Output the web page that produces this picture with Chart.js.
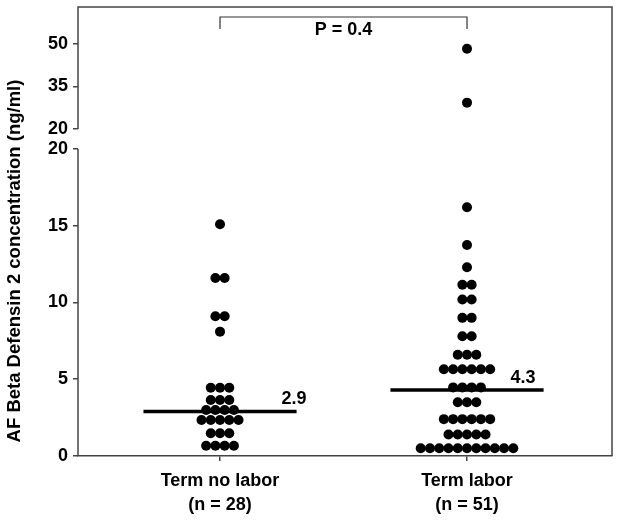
<!DOCTYPE html>
<html><head><meta charset="utf-8">
<script src="https://cdn.jsdelivr.net/npm/chart.js@4"></script>
<style>html,body{margin:0;padding:0;background:#fff}#wrap{width:624px;height:520px;position:relative}</style>
</head><body><div id="wrap"><canvas id="c"></canvas></div>
<script>
// ---- data ----
const categories = ['Term no labor', 'Term labor'];
const nLabels = ['(n = 28)', '(n = 51)'];
const termNoLabor = [15.1, 11.6, 11.6, 9.1, 9.1, 8.1,
  4.45, 4.45, 4.45, 3.65, 3.65, 3.65, 3.0, 3.0, 3.0, 3.0,
  2.35, 2.35, 2.35, 2.35, 2.35, 1.48, 1.48, 1.48, 0.67, 0.67, 0.67, 0.67];
const termLabor = [48.3, 29.3, 16.2, 13.75, 12.3, 11.15, 11.15, 10.2, 10.2, 9.0, 9.0, 7.8, 7.8,
  6.6, 6.6, 6.6, 5.65, 5.65, 5.65, 5.65, 5.65, 5.65, 4.47, 4.47, 4.47, 4.47,
  3.5, 3.5, 3.5, 2.4, 2.4, 2.4, 2.4, 2.4, 2.4, 1.4, 1.4, 1.4, 1.4, 1.4,
  0.5, 0.5, 0.5, 0.5, 0.5, 0.5, 0.5, 0.5, 0.5, 0.5, 0.5];
const medians = [2.9, 4.3];
const medianLabels = ['2.9', '4.3'];
const yTicksLower = [0, 5, 10, 15, 20];
const yTicksUpper = [20, 35, 50];
const breakValue = 20;
const pLabel = 'P = 0.4';
const yTitle = 'AF Beta Defensin 2 concentration (ng/ml)';

// ---- build ----
const FONT = '"Liberation Sans", Arial, Helvetica, sans-serif';
const SPACING = 0.0375;
function swarm(values, gx) {
  const counts = {}, seen = {};
  values.forEach(v => counts[v] = (counts[v] || 0) + 1);
  return values.map(v => {
    const n = counts[v], i = seen[v] || 0; seen[v] = i + 1;
    return { x: gx + (i - (n - 1) / 2) * SPACING, y: v };
  });
}
const allPts = [...swarm(termNoLabor, 1), ...swarm(termLabor, 2)];
const lowerPts = allPts.filter(p => p.y <= breakValue);
const upperPts = allPts.filter(p => p.y > breakValue);
const HALF = 0.31;
const medianSets = medians.map((m, i) => ({
  type: 'line', data: [{ x: i + 1 - HALF, y: m }, { x: i + 1 + HALF, y: m }],
  borderColor: '#000', borderWidth: 3.5, pointRadius: 0, yAxisID: 'y', order: 0
}));

const dotStyle = { backgroundColor: '#000', borderColor: '#000', borderWidth: 0, pointRadius: 5, pointHoverRadius: 5 };

const extras = {
  id: 'extras',
  afterDraw(chart) {
    const { ctx, chartArea: a, scales } = chart;
    const y = scales.y, y2 = scales.y2, x = scales.x;
    ctx.save();
    ctx.strokeStyle = '#444'; ctx.lineWidth = 1.5;
    // broken left axis
    ctx.beginPath();
    ctx.moveTo(a.left, y.getPixelForValue(0)); ctx.lineTo(a.left, y.getPixelForValue(breakValue));
    ctx.moveTo(a.left, y2.getPixelForValue(breakValue)); ctx.lineTo(a.left, a.top);
    // box top & right
    ctx.lineTo(a.right, a.top); ctx.lineTo(a.right, a.bottom);
    ctx.stroke();
    // bracket
    const bx1 = x.getPixelForValue(1), bx2 = x.getPixelForValue(2);
    ctx.lineWidth = 1.2; ctx.strokeStyle = '#333';
    ctx.beginPath();
    ctx.moveTo(bx1, a.top + 22); ctx.lineTo(bx1, a.top + 10); ctx.lineTo(bx2, a.top + 10); ctx.lineTo(bx2, a.top + 22);
    ctx.stroke();
    ctx.fillStyle = '#000';
    ctx.font = 'bold 18px ' + FONT;
    ctx.textAlign = 'center'; ctx.textBaseline = 'middle';
    ctx.fillText(pLabel, (bx1 + bx2) / 2, a.top + 23);
    // median labels
    const dx = [0.30, 0.227];
    medians.forEach((m, i) => {
      ctx.fillText(medianLabels[i], x.getPixelForValue(i + 1 + dx[i]), y.getPixelForValue(m) - 12);
    });
    // y title
    ctx.font = 'bold 18.5px ' + FONT;
    ctx.translate(15, 261);
    ctx.rotate(-Math.PI / 2);
    ctx.fillText(yTitle, 0, 0);
    ctx.restore();
  }
};

const yCommon = {
  type: 'linear', position: 'left', stack: 'ys',
  ticks: { font: { family: FONT, size: 18, weight: 'bold' }, color: '#000', padding: 5 },
  grid: { drawOnChartArea: false, drawTicks: true, tickLength: 5, color: '#444', lineWidth: 1.5 },
  border: { display: false },
  afterFit: s => { s.width = 78; s.paddingTop = 0; s.paddingBottom = 0; }
};

new Chart(document.getElementById('c'), {
  type: 'scatter',
  data: {
    datasets: [
      { data: lowerPts, yAxisID: 'y', ...dotStyle, order: 1 },
      { data: upperPts, yAxisID: 'y2', ...dotStyle, order: 1 },
      ...medianSets
    ]
  },
  options: {
    animation: false, responsive: true, maintainAspectRatio: false,
    layout: { padding: { left: 0, top: 7, right: 12, bottom: 0 } },
    plugins: { legend: { display: false }, tooltip: { enabled: false } },
    scales: {
      x: {
        type: 'linear', min: 0.425, max: 2.587,
        afterBuildTicks: s => { s.ticks = categories.map((c, i) => ({ value: i + 1 })); },
        ticks: { callback: (v, i) => [categories[i], nLabels[i]], font: { family: FONT, size: 18, weight: 'bold', lineHeight: 1.32 }, color: '#000', padding: 8, maxRotation: 0, autoSkip: false },
        grid: { drawOnChartArea: false, drawTicks: true, tickLength: 5, color: '#444', lineWidth: 1.5 },
        border: { display: true, color: '#444', width: 1.5 },
        afterFit: s => { s.height = 64; s.paddingLeft = 0; s.paddingRight = 0; }
      },
      y: { ...yCommon, stackWeight: 317, min: 0, max: 20.65,
        afterBuildTicks: s => { s.ticks = yTicksLower.map(v => ({ value: v })); } },
      y2: { ...yCommon, stackWeight: 132, min: 16.47, max: 63.06,
        afterBuildTicks: s => { s.ticks = yTicksUpper.map(v => ({ value: v })); } }
    }
  },
  plugins: [extras]
});
</script></body></html>
